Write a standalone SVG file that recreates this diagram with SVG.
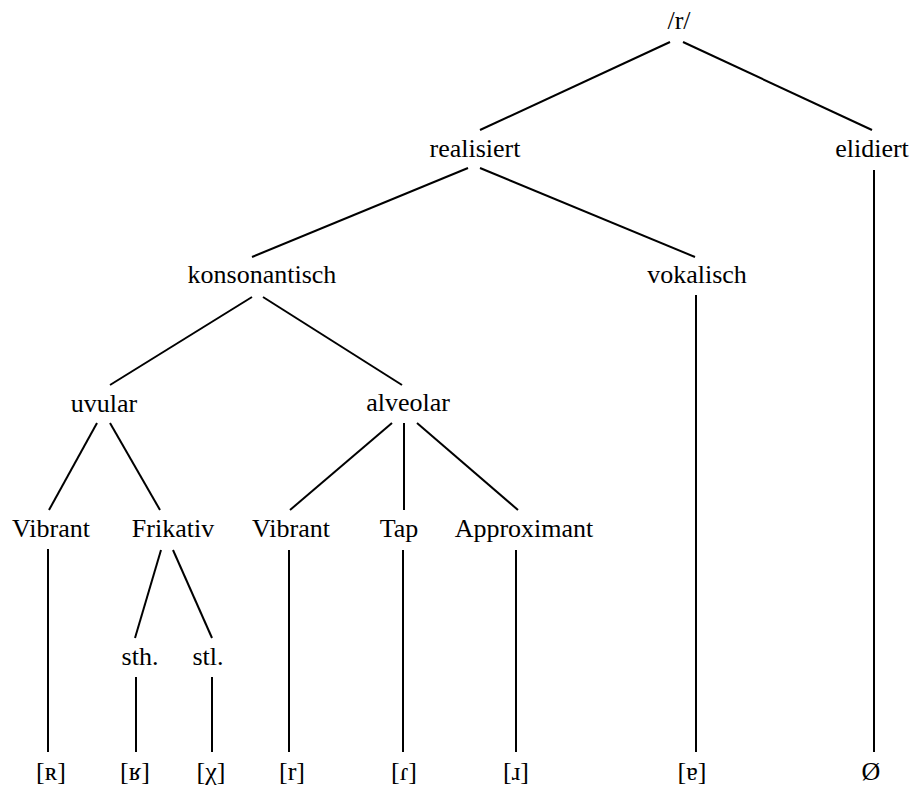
<svg xmlns="http://www.w3.org/2000/svg" width="916" height="788" viewBox="0 0 916 788">
<style>
text{font-family:"Liberation Serif","DejaVu Serif",serif;font-size:26px;fill:#000;text-anchor:middle}
.c line{stroke:#000;stroke-width:2;stroke-linecap:butt}
</style>
<rect width="916" height="788" fill="#fff"/>
<g class="c" id="connectors">
<line x1="670" y1="42" x2="480" y2="130"/>
<line x1="683" y1="42" x2="872" y2="130"/>
<line x1="468" y1="168" x2="252" y2="257"/>
<line x1="480" y1="168" x2="695" y2="257"/>
<line x1="874" y1="170" x2="874" y2="752"/>
<line x1="252" y1="297" x2="110" y2="385"/>
<line x1="263" y1="297" x2="402" y2="385"/>
<line x1="696" y1="295" x2="696" y2="752"/>
<line x1="97" y1="423" x2="49" y2="510"/>
<line x1="110" y1="423" x2="160" y2="510"/>
<line x1="392" y1="423" x2="290" y2="510"/>
<line x1="404" y1="423" x2="404" y2="510"/>
<line x1="417" y1="423" x2="518" y2="510"/>
<line x1="48" y1="549" x2="48" y2="752"/>
<line x1="161" y1="550" x2="135" y2="638"/>
<line x1="173" y1="550" x2="212" y2="638"/>
<line x1="136" y1="677" x2="136" y2="752"/>
<line x1="212" y1="677" x2="212" y2="752"/>
<line x1="289" y1="550" x2="289" y2="752"/>
<line x1="403" y1="550" x2="403" y2="752"/>
<line x1="516" y1="550" x2="516" y2="752"/>
</g>
<g id="n-r"><text x="679" y="29">/r/</text></g>
<g id="n-realisiert"><text x="475" y="157">realisiert</text></g>
<g id="n-elidiert"><text x="872" y="157">elidiert</text></g>
<g id="n-konsonantisch"><text x="262" y="283">konsonantisch</text></g>
<g id="n-vokalisch"><text x="697" y="283">vokalisch</text></g>
<g id="n-uvular"><text x="104" y="412">uvular</text></g>
<g id="n-alveolar"><text x="408" y="411">alveolar</text></g>
<g id="n-vibrant-uv"><text x="51" y="537">Vibrant</text></g>
<g id="n-frikativ"><text x="173" y="537">Frikativ</text></g>
<g id="n-vibrant-alv"><text x="291" y="537">Vibrant</text></g>
<g id="n-tap"><text x="399" y="537">Tap</text></g>
<g id="n-approximant"><text x="524" y="537">Approximant</text></g>
<g id="n-sth"><text x="140" y="665">sth.</text></g>
<g id="n-stl"><text x="208" y="665">stl.</text></g>
<g id="n-R"><text x="51" y="780">[ʀ]</text></g>
<g id="n-Rinv"><text x="135" y="780">[ʁ]</text></g>
<g id="n-chi"><text x="211" y="780">[χ]</text></g>
<g id="n-trill"><text x="292" y="780">[r]</text></g>
<g id="n-tap-ipa"><text x="404" y="780">[ɾ]</text></g>
<g id="n-approx-ipa"><text x="516" y="780">[ɹ]</text></g>
<g id="n-vocal"><text x="692" y="780">[ɐ]</text></g>
<g id="n-zero"><text x="871" y="780">Ø</text></g>
</svg>
